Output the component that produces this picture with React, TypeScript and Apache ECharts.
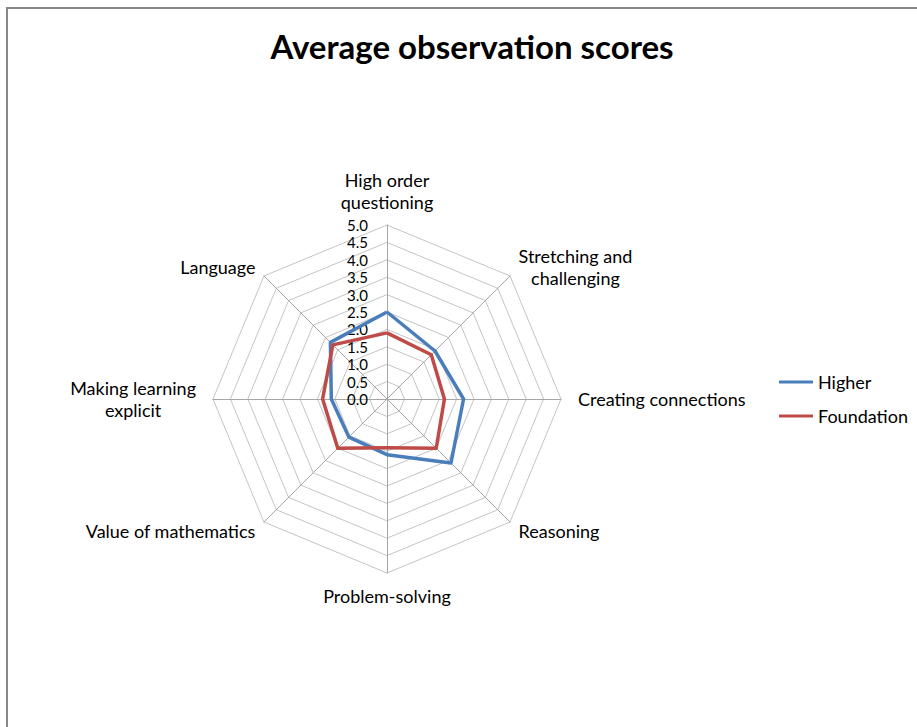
import React, { useEffect, useRef } from "react";
import * as echarts from "echarts";

const titleText = "Average observation scores";
// clockwise from top
const categories = [
  "High order\nquestioning",
  "Stretching and\nchallenging",
  "Creating connections",
  "Reasoning",
  "Problem-solving",
  "Value of mathematics",
  "Making learning\nexplicit",
  "Language",
];
const seriesNames = ["Higher", "Foundation"];
const higher = [2.5, 1.95, 2.2, 2.6, 1.6, 1.55, 1.6, 2.3];
const foundation = [1.9, 1.8, 1.65, 2.0, 1.4, 2.0, 1.85, 2.2];
const axisMax = 5;
const axisMin = 0;
const splitCount = 10;

// ECharts lays indicators counter-clockwise; reorder to get clockwise layout
const order = [0, 7, 6, 5, 4, 3, 2, 1];

export default function App() {
  const ref = useRef<HTMLDivElement>(null);
  useEffect(() => {
    if (!ref.current) return;
    const chart = echarts.init(ref.current, null, { renderer: "svg" });
    const font = "Lato, 'Open Sans', sans-serif";
    const indicator = order.map((i, k) => {
      const name = categories[i];
      const o: any = { name, max: axisMax, min: axisMin };
      if (k === 0) {
        o.axisLabel = {
          show: true,
          formatter: (v: number) => v.toFixed(1),
        };
      }
      if (name === "Creating connections" || name.startsWith("Making")) {
        o.nameGap = 17;
      }
      return o;
    });
    chart.setOption({
      animation: false,
      backgroundColor: "#fff",
      title: {
        text: titleText,
        left: 467,
        textAlign: "center",
        top: 24,
        textStyle: {
          fontFamily: font,
          fontWeight: "bold",
          fontSize: 33,
          color: "#000",
        },
      },
      legend: {
        orient: "vertical",
        left: 779,
        top: 371,
        padding: 0,
        itemWidth: 34,
        itemHeight: 3,
        itemGap: 12,
        icon: "rect",
        textStyle: { fontFamily: font, fontSize: 18, color: "#000", lineHeight: 22 },
        data: seriesNames,
      },
      graphic: [
        {
          type: "rect",
          shape: { x: 7, y: 8, width: 1000, height: 1000 },
          style: { fill: "none", stroke: "#888", lineWidth: 2 },
          silent: true,
        },
      ],
      radar: {
        center: [387, 399],
        radius: 174,
        startAngle: 90,
        splitNumber: splitCount,
        shape: "polygon",
        indicator,
        nameGap: 12,
        axisName: {
          color: "#000",
          fontFamily: font,
          fontSize: 18,
          lineHeight: 22,
          formatter: (n: string) =>
            n
              .split("\n")
              .map((l) => `{c|${l}}`)
              .join("\n"),
          rich: {
            c: {
              align: "center",
              color: "#000",
              fontFamily: font,
              fontSize: 18,
              lineHeight: 22,
            },
          },
        },
        axisLine: { lineStyle: { color: "#a6a6a6", width: 1 } },
        splitLine: { lineStyle: { color: "#c4c4c4", width: 1 } },
        splitArea: { show: false },
        axisTick: { show: false },
        axisLabel: {
          show: false,
          color: "#000",
          fontFamily: font,
          fontSize: 15,
          margin: 19,
        },
      },
      series: [
        {
          type: "radar",
          symbol: "none",
          data: [
            {
              name: seriesNames[0],
              value: order.map((i) => higher[i]),
              lineStyle: { color: "#4a7ebb", width: 3.5 },
              itemStyle: { color: "#4a7ebb" },
            },
            {
              name: seriesNames[1],
              value: order.map((i) => foundation[i]),
              lineStyle: { color: "#be4b48", width: 3.5 },
              itemStyle: { color: "#be4b48" },
            },
          ],
        },
      ],
    });
    return () => chart.dispose();
  }, []);
  return (
    <div
      ref={ref}
      style={{ position: "fixed", left: 0, top: 0, width: 917, height: 727 }}
    />
  );
}
